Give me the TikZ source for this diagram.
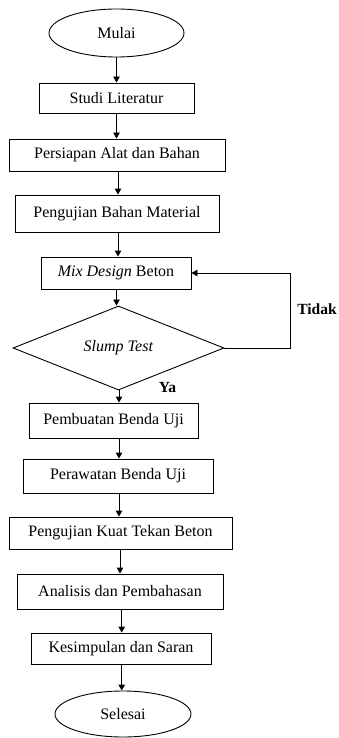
\documentclass[tikz,border=0pt]{standalone}
\usepackage{fontspec}
\setmainfont{Liberation Serif}
\usetikzlibrary{shapes.geometric,arrows.meta}
\begin{document}
\begin{tikzpicture}[x=1pt,y=-1pt,
  every node/.style={font=\fontsize{16pt}{19pt}\selectfont, inner sep=0pt},
  procbox/.style 2 args={draw, line width=0.9pt, rectangle, minimum width=#1pt, minimum height=#2pt},
  termin/.style 2 args={draw, line width=0.9pt, ellipse, minimum width=#1pt, minimum height=#2pt},
  decis/.style 2 args={draw, line width=0.9pt, diamond, minimum width=#1pt, minimum height=#2pt},
  arr/.style={line width=0.9pt, -{Triangle[length=6pt,width=6.5pt]}},
  lbl/.style={font=\fontsize{15.5pt}{18pt}\selectfont\bfseries}]
\useasboundingbox (0,0) rectangle (338,738);
\node[termin={135}{48}] (m1) at (116.5,33) {Mulai};
\node[procbox={155}{30}] (s1) at (116.5,98) {Studi Literatur};
\node[procbox={216}{32}] (s2) at (117,155) {Persiapan Alat dan Bahan};
\node[procbox={204}{37}] (s3) at (117,213.5) {Pengujian Bahan Material};
\node[procbox={150}{32}] (s4) at (116,273) {\textit{Mix Design} Beton};
\node[decis={211}{62}] (d1) at (118.5,348) {\textit{Slump Test}};
\node[procbox={169}{35}] (s5) at (113.5,420.5) {Pembuatan Benda Uji};
\node[procbox={190}{34}] (s6) at (118,476) {Perawatan Benda Uji};
\node[procbox={223}{32}] (s7) at (120.5,533) {Pengujian Kuat Tekan Beton};
\node[procbox={206}{35}] (s8) at (120,591.5) {Analisis dan Pembahasan};
\node[procbox={180}{31}] (s9) at (121,648.5) {Kesimpulan dan Saran};
\node[termin={136}{46}] (m2) at (123,714) {Selesai};
\node[lbl] (tdk) at (317,309) {Tidak};
\node[lbl] (ya) at (167.5,387) {Ya};
\coordinate (lp) at (290,0);
\draw[arr] (m1.south) -- (m1.south |- s1.north);
\draw[arr] (s1.south) -- (s1.south |- s2.north);
\draw[arr] ([xshift=1pt]s2.south) -- ([xshift=1pt]s2.south |- s3.north);
\draw[arr] ([xshift=1pt]s3.south) -- ([xshift=1pt]s3.south |- s4.north);
\draw[arr] ([xshift=0.5pt]s4.south) -- ([xshift=0.5pt]s4.south |- d1.north);
\draw[arr] ([xshift=0.5pt]d1.south) -- ([xshift=0.5pt]d1.south |- s5.north);
\draw[arr] ([xshift=5.5pt]s5.south) -- ([xshift=5.5pt]s5.south |- s6.north);
\draw[arr] ([xshift=1pt]s6.south) -- ([xshift=1pt]s6.south |- s7.north);
\draw[arr] ([xshift=-0.5pt]s7.south) -- ([xshift=-0.5pt]s7.south |- s8.north);
\draw[arr] ([xshift=1.7pt]s8.south) -- ([xshift=1.7pt]s8.south |- s9.north);
\draw[arr] ([xshift=0.7pt]s9.south) -- ([xshift=0.7pt]s9.south |- m2.north);
\draw[arr] (d1.east) -- (d1.east -| lp) |- (s4.east);
\end{tikzpicture}
\end{document}
